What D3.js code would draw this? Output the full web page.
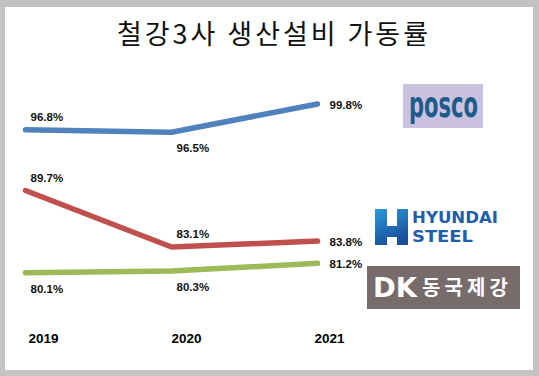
<!DOCTYPE html>
<html>
<head>
<meta charset="utf-8">
<script src="https://cdn.jsdelivr.net/npm/d3@7"></script>
<style>
  body { margin: 0; background: #c3c3c3; }
  svg { display: block; }
</style>
</head>
<body>
<script>
const years = ["2019", "2020", "2021"];
const poscoRates = [96.8, 96.5, 99.8];
const hyundaiRates = [89.7, 83.1, 83.8];
const dongkukRates = [80.1, 80.3, 81.2];
const seriesNames = ["POSCO", "현대제철", "동국제강"];
const seriesColors = ["#4f81bd", "#c0504d", "#9bbb59"];
// where each value label sits relative to its point
const poscoSides = ["above", "below", "right"];
const hyundaiSides = ["above", "above", "right"];
const dongkukSides = ["below", "below", "right"];
const title = "철강3사 생산설비 가동률";

const width = 539, height = 376;

const series = seriesNames.map((name, i) => ({
  name,
  color: seriesColors[i],
  values: [poscoRates, hyundaiRates, dongkukRates][i],
  sides: [poscoSides, hyundaiSides, dongkukSides][i]
}));

const svg = d3.select("body").append("svg")
  .attr("width", width)
  .attr("height", height);

// white panel inside the gray frame
svg.append("rect")
  .attr("x", 5).attr("y", 7)
  .attr("width", 528).attr("height", 363)
  .attr("fill", "#fff");

svg.append("text")
  .attr("x", 117).attr("y", 44)
  .attr("textLength", 311)
  .attr("lengthAdjust", "spacing")
  .attr("font-family", "'Noto Sans CJK KR', sans-serif")
  .attr("font-size", 27)
  .attr("fill", "#111")
  .text(title);

const x = d3.scalePoint().domain(years).range([25.5, 317.5]);
const y = d3.scaleLinear().domain([78, 100]).range([290.7, 102.3]);

const line = d3.line()
  .x((d, i) => x(years[i]))
  .y(d => y(d));

svg.append("g")
  .selectAll("path")
  .data(series)
  .join("path")
  .attr("d", d => line(d.values))
  .attr("fill", "none")
  .attr("stroke", d => d.color)
  .attr("stroke-width", 5.5)
  .attr("stroke-linecap", "round")
  .attr("stroke-linejoin", "round");

const offsets = {
  above: [5, -9],
  below: [5, 20],
  right: [12, 4.5]
};

const labels = series.flatMap(s => s.values.map((v, i) => ({
  v, year: years[i], side: s.sides[i]
})));

svg.append("g")
  .attr("font-family", "'Liberation Sans', Arial, sans-serif")
  .attr("font-weight", "bold")
  .attr("font-size", 11.5)
  .attr("fill", "#111")
  .selectAll("text")
  .data(labels)
  .join("text")
  .attr("x", d => x(d.year) + offsets[d.side][0])
  .attr("y", d => y(d.v) + offsets[d.side][1])
  .text(d => d.v.toFixed(1) + "%");

// year labels
const xLab = d3.scalePoint().domain(years).range([43, 329]);
const axis = svg.append("g")
  .attr("transform", "translate(0,330)")
  .call(d3.axisBottom(xLab).tickSize(0).tickPadding(0));
axis.select(".domain").remove();
axis.selectAll("text")
  .attr("dy", 12.5)
  .attr("font-family", "'Liberation Sans', Arial, sans-serif")
  .attr("font-weight", "bold")
  .attr("font-size", 13.5)
  .attr("fill", "#000");

// ---- logos ----
const posco = svg.append("g");
posco.append("rect")
  .attr("x", 403).attr("y", 84)
  .attr("width", 80).attr("height", 44)
  .attr("fill", "#cbc2df");
posco.append("text")
  .attr("x", 409).attr("y", 117)
  .attr("textLength", 69)
  .attr("lengthAdjust", "spacingAndGlyphs")
  .attr("font-family", "'DejaVu Sans', sans-serif")
  .attr("font-weight", "bold")
  .attr("font-size", 36)
  .attr("fill", "#1d5c8a")
  .text("posco");

const defs = svg.append("defs");
const grad = defs.append("linearGradient")
  .attr("id", "hgrad")
  .attr("x1", 0).attr("y1", 0).attr("x2", 0.4).attr("y2", 1);
grad.append("stop").attr("offset", "0%").attr("stop-color", "#2a9ad9");
grad.append("stop").attr("offset", "100%").attr("stop-color", "#1b4f9c");

const hyundai = svg.append("g");
hyundai.append("path")
  .attr("d", "M375,209H387V226H397V209H408V245H397V237H387V245H375Z")
  .attr("fill", "url(#hgrad)");
hyundai.append("text")
  .attr("x", 412).attr("y", 222.5)
  .attr("textLength", 86)
  .attr("lengthAdjust", "spacingAndGlyphs")
  .attr("font-family", "'DejaVu Sans', sans-serif")
  .attr("font-weight", "bold")
  .attr("font-size", 16)
  .attr("fill", "#1f5ea8")
  .text("HYUNDAI");
hyundai.append("text")
  .attr("x", 412).attr("y", 242)
  .attr("textLength", 61)
  .attr("lengthAdjust", "spacingAndGlyphs")
  .attr("font-family", "'DejaVu Sans', sans-serif")
  .attr("font-weight", "bold")
  .attr("font-size", 16)
  .attr("fill", "#1f5ea8")
  .text("STEEL");

const dongkuk = svg.append("g");
dongkuk.append("rect")
  .attr("x", 367).attr("y", 266)
  .attr("width", 153).attr("height", 43)
  .attr("fill", "#776b6c");
dongkuk.append("text")
  .attr("x", 373).attr("y", 297)
  .attr("textLength", 44)
  .attr("lengthAdjust", "spacingAndGlyphs")
  .attr("font-family", "'DejaVu Sans', sans-serif")
  .attr("font-weight", "bold")
  .attr("font-size", 26)
  .attr("fill", "#fff")
  .text("DK");
dongkuk.append("text")
  .attr("x", 422).attr("y", 295)
  .attr("textLength", 86)
  .attr("lengthAdjust", "spacing")
  .attr("font-family", "'Noto Sans CJK KR', sans-serif")
  .attr("font-weight", "bold")
  .attr("font-size", 20)
  .attr("fill", "#fff")
  .text(seriesNames[2]);
</script>
</body>
</html>
